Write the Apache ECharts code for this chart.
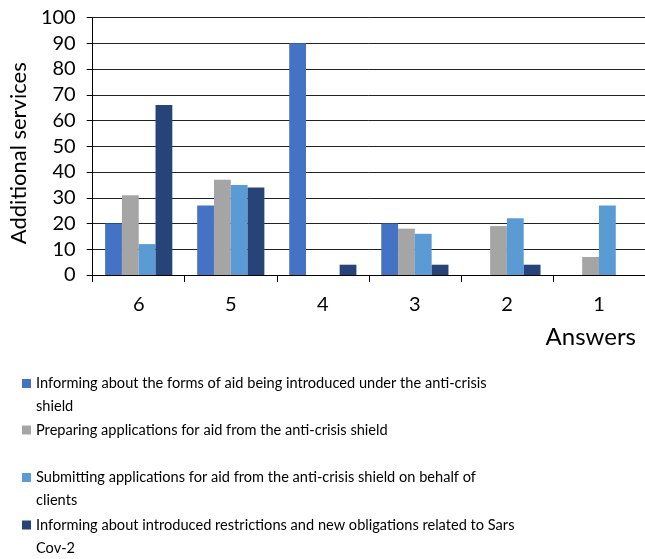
<!DOCTYPE html>
<html>
<head>
<meta charset="utf-8">
<script src="https://cdn.jsdelivr.net/npm/echarts@6/dist/echarts.min.js"></script>
<style>
html,body{margin:0;padding:0;background:#fff;}
#c{width:645px;height:559px;}
</style>
</head>
<body>
<div id="c"></div>
<script>
const categories = ['6', '5', '4', '3', '2', '1'];
const seriesNames = [
  'Informing about the forms of aid being introduced under the anti-crisis shield',
  'Preparing applications for aid from the anti-crisis shield',
  'Submitting applications for aid from the anti-crisis shield on behalf of clients',
  'Informing about introduced restrictions and new obligations related to Sars Cov-2'
];
const legendLabels = [
  'Informing about the forms of aid being introduced under the anti-crisis\nshield',
  'Preparing applications for aid from the anti-crisis shield',
  'Submitting applications for aid from the anti-crisis shield on behalf of\nclients',
  'Informing about introduced restrictions and new obligations related to Sars\nCov-2'
];
const informingForms = [20, 27, 90, 20, 0, 0];
const preparingApps = [31, 37, 0, 18, 19, 7];
const submittingApps = [12, 35, 0, 16, 22, 27];
const informingRestrictions = [66, 34, 4, 4, 4, 0];
const yTicks = [0, 10, 20, 30, 40, 50, 60, 70, 80, 90, 100];
const colors = ['#4472C4', '#A5A5A5', '#5B9BD5', '#264478'];

const FONT = 'Lato';
const values = [informingForms, preparingApps, submittingApps, informingRestrictions];
const LH = 23;
const legendTops = [349, 418.5, 443, 490.5];

const chart = echarts.init(document.getElementById('c'), null, {renderer: 'canvas'});
const legends = seriesNames.map((n, i) => {
  const twoLine = legendLabels[i].indexOf('\n') >= 0;
  return {
    data: [n],
    left: 22,
    top: legendTops[i],
    padding: 0,
    itemWidth: 9,
    itemHeight: 9,
    icon: 'rect',
    selectedMode: false,
    formatter: () => (twoLine ? '\n' : '') + legendLabels[i],
    textStyle: {
      fontFamily: FONT,
      fontSize: 14.6,
      color: '#000',
      lineHeight: LH
    }
  };
});

chart.setOption({
  animation: false,
  color: colors,
  grid: {left: 91, top: 17.5, width: 558, height: 257.5, containLabel: false},
  legend: legends,
  xAxis: {
    type: 'category',
    data: categories,
    name: 'Answers',
    nameLocation: 'end',
    nameGap: -9,
    nameTextStyle: {fontFamily: FONT, fontSize: 24, color: '#000', align: 'right', verticalAlign: 'top', padding: [50, 0, 0, 0]},
    axisLine: {lineStyle: {color: '#000', width: 1}},
    axisTick: {show: true, alignWithLabel: false, length: 7, lineStyle: {color: '#000'}},
    axisLabel: {fontFamily: FONT, fontSize: 20, color: '#000', margin: 20},
    splitLine: {show: false}
  },
  yAxis: {
    type: 'value',
    min: yTicks[0],
    max: yTicks[yTicks.length - 1],
    interval: 10,
    name: 'Additional services',
    nameLocation: 'middle',
    nameGap: 62,
    nameTextStyle: {fontFamily: FONT, fontSize: 22, color: '#000', padding: [0, 14, 0, 0]},
    axisLine: {show: true, lineStyle: {color: '#000', width: 1}},
    axisTick: {show: true, length: 6, lineStyle: {color: '#000'}},
    axisLabel: {fontFamily: FONT, fontSize: 20, color: '#000', margin: 17},
    splitLine: {show: true, lineStyle: {color: '#222', width: 1}}
  },
  series: seriesNames.map((n, i) => ({
    name: n,
    type: 'bar',
    data: values[i],
    barGap: 0,
    barCategoryGap: '27%',
    itemStyle: {color: colors[i]}
  }))
});
</script>
</body>
</html>
